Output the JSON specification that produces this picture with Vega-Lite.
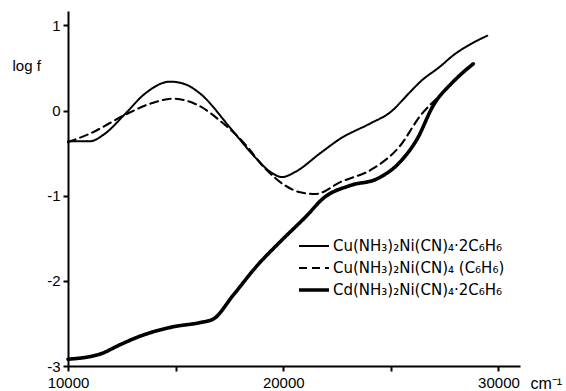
{
  "$schema": "https://vega.github.io/schema/vega-lite/v6.json",
  "width": 452,
  "height": 355,
  "autosize": {"type": "none"},
  "padding": {"left": 68, "top": 11, "right": 46, "bottom": 25},
  "background": "white",
  "config": {
    "view": {"stroke": null},
    "font": "Liberation Sans",
    "axis": {"grid": false, "domainColor": "black", "tickColor": "black", "labelColor": "black", "titleColor": "black", "labelFont": "Liberation Sans", "titleFont": "Liberation Sans", "titleFontWeight": "normal"}
  },
  "data": {
    "values": [
      {"series": "Cu(NH₃)₂Ni(CN)₄·2C₆H₆", "x": 10000, "y": -0.36},
      {"series": "Cu(NH₃)₂Ni(CN)₄·2C₆H₆", "x": 11020, "y": -0.36},
      {"series": "Cu(NH₃)₂Ni(CN)₄·2C₆H₆", "x": 11720, "y": -0.27},
      {"series": "Cu(NH₃)₂Ni(CN)₄·2C₆H₆", "x": 12650, "y": -0.04},
      {"series": "Cu(NH₃)₂Ni(CN)₄·2C₆H₆", "x": 13580, "y": 0.2},
      {"series": "Cu(NH₃)₂Ni(CN)₄·2C₆H₆", "x": 14740, "y": 0.34},
      {"series": "Cu(NH₃)₂Ni(CN)₄·2C₆H₆", "x": 15440, "y": 0.31},
      {"series": "Cu(NH₃)₂Ni(CN)₄·2C₆H₆", "x": 16140, "y": 0.2},
      {"series": "Cu(NH₃)₂Ni(CN)₄·2C₆H₆", "x": 17530, "y": -0.2},
      {"series": "Cu(NH₃)₂Ni(CN)₄·2C₆H₆", "x": 18700, "y": -0.55},
      {"series": "Cu(NH₃)₂Ni(CN)₄·2C₆H₆", "x": 19400, "y": -0.72},
      {"series": "Cu(NH₃)₂Ni(CN)₄·2C₆H₆", "x": 19950, "y": -0.78},
      {"series": "Cu(NH₃)₂Ni(CN)₄·2C₆H₆", "x": 20560, "y": -0.72},
      {"series": "Cu(NH₃)₂Ni(CN)₄·2C₆H₆", "x": 21720, "y": -0.5},
      {"series": "Cu(NH₃)₂Ni(CN)₄·2C₆H₆", "x": 22650, "y": -0.33},
      {"series": "Cu(NH₃)₂Ni(CN)₄·2C₆H₆", "x": 24050, "y": -0.15},
      {"series": "Cu(NH₃)₂Ni(CN)₄·2C₆H₆", "x": 24970, "y": -0.02},
      {"series": "Cu(NH₃)₂Ni(CN)₄·2C₆H₆", "x": 25900, "y": 0.22},
      {"series": "Cu(NH₃)₂Ni(CN)₄·2C₆H₆", "x": 26370, "y": 0.34},
      {"series": "Cu(NH₃)₂Ni(CN)₄·2C₆H₆", "x": 27300, "y": 0.52},
      {"series": "Cu(NH₃)₂Ni(CN)₄·2C₆H₆", "x": 27900, "y": 0.65},
      {"series": "Cu(NH₃)₂Ni(CN)₄·2C₆H₆", "x": 28700, "y": 0.78},
      {"series": "Cu(NH₃)₂Ni(CN)₄·2C₆H₆", "x": 29480, "y": 0.88},

      {"series": "Cu(NH₃)₂Ni(CN)₄ (C₆H₆)", "x": 10000, "y": -0.37},
      {"series": "Cu(NH₃)₂Ni(CN)₄ (C₆H₆)", "x": 11020, "y": -0.27},
      {"series": "Cu(NH₃)₂Ni(CN)₄ (C₆H₆)", "x": 12650, "y": -0.05},
      {"series": "Cu(NH₃)₂Ni(CN)₄ (C₆H₆)", "x": 13810, "y": 0.08},
      {"series": "Cu(NH₃)₂Ni(CN)₄ (C₆H₆)", "x": 14880, "y": 0.14},
      {"series": "Cu(NH₃)₂Ni(CN)₄ (C₆H₆)", "x": 16140, "y": 0.05},
      {"series": "Cu(NH₃)₂Ni(CN)₄ (C₆H₆)", "x": 17070, "y": -0.12},
      {"series": "Cu(NH₃)₂Ni(CN)₄ (C₆H₆)", "x": 18140, "y": -0.37},
      {"series": "Cu(NH₃)₂Ni(CN)₄ (C₆H₆)", "x": 19160, "y": -0.68},
      {"series": "Cu(NH₃)₂Ni(CN)₄ (C₆H₆)", "x": 20090, "y": -0.88},
      {"series": "Cu(NH₃)₂Ni(CN)₄ (C₆H₆)", "x": 20790, "y": -0.96},
      {"series": "Cu(NH₃)₂Ni(CN)₄ (C₆H₆)", "x": 21490, "y": -0.98},
      {"series": "Cu(NH₃)₂Ni(CN)₄ (C₆H₆)", "x": 22650, "y": -0.84},
      {"series": "Cu(NH₃)₂Ni(CN)₄ (C₆H₆)", "x": 24180, "y": -0.68},
      {"series": "Cu(NH₃)₂Ni(CN)₄ (C₆H₆)", "x": 25440, "y": -0.41},
      {"series": "Cu(NH₃)₂Ni(CN)₄ (C₆H₆)", "x": 26370, "y": -0.06},
      {"series": "Cu(NH₃)₂Ni(CN)₄ (C₆H₆)", "x": 27300, "y": 0.18},

      {"series": "Cd(NH₃)₂Ni(CN)₄·2C₆H₆", "x": 10000, "y": -2.92},
      {"series": "Cd(NH₃)₂Ni(CN)₄·2C₆H₆", "x": 11490, "y": -2.86},
      {"series": "Cd(NH₃)₂Ni(CN)₄·2C₆H₆", "x": 12420, "y": -2.75},
      {"series": "Cd(NH₃)₂Ni(CN)₄·2C₆H₆", "x": 13350, "y": -2.65},
      {"series": "Cd(NH₃)₂Ni(CN)₄·2C₆H₆", "x": 14880, "y": -2.54},
      {"series": "Cd(NH₃)₂Ni(CN)₄·2C₆H₆", "x": 16140, "y": -2.49},
      {"series": "Cd(NH₃)₂Ni(CN)₄·2C₆H₆", "x": 16740, "y": -2.45},
      {"series": "Cd(NH₃)₂Ni(CN)₄·2C₆H₆", "x": 17670, "y": -2.17},
      {"series": "Cd(NH₃)₂Ni(CN)₄·2C₆H₆", "x": 18790, "y": -1.82},
      {"series": "Cd(NH₃)₂Ni(CN)₄·2C₆H₆", "x": 19860, "y": -1.54},
      {"series": "Cd(NH₃)₂Ni(CN)₄·2C₆H₆", "x": 21110, "y": -1.23},
      {"series": "Cd(NH₃)₂Ni(CN)₄·2C₆H₆", "x": 21860, "y": -1.03},
      {"series": "Cd(NH₃)₂Ni(CN)₄·2C₆H₆", "x": 23110, "y": -0.88},
      {"series": "Cd(NH₃)₂Ni(CN)₄·2C₆H₆", "x": 24370, "y": -0.8},
      {"series": "Cd(NH₃)₂Ni(CN)₄·2C₆H₆", "x": 25440, "y": -0.6},
      {"series": "Cd(NH₃)₂Ni(CN)₄·2C₆H₆", "x": 26230, "y": -0.33},
      {"series": "Cd(NH₃)₂Ni(CN)₄·2C₆H₆", "x": 26970, "y": 0.06},
      {"series": "Cd(NH₃)₂Ni(CN)₄·2C₆H₆", "x": 27900, "y": 0.34},
      {"series": "Cd(NH₃)₂Ni(CN)₄·2C₆H₆", "x": 28830, "y": 0.55}
    ]
  },
  "mark": {"type": "line", "color": "black", "interpolate": "monotone", "strokeCap": "round"},
  "encoding": {
    "x": {
      "field": "x", "type": "quantitative",
      "scale": {"domain": [10000, 31000], "nice": false, "zero": false},
      "axis": {
        "values": [10000, 15000, 20000, 25000, 30000],
        "labelExpr": "datum.value % 10000 === 0 ? datum.value : ''",
        "format": "d",
        "title": "cm⁻¹",
        "titleX": 462, "titleY": 17, "titleAlign": "left", "titleBaseline": "middle",
        "titleFontSize": 16,
        "labelFontSize": 15, "labelPadding": 4,
        "domainWidth": 2, "tickWidth": 2, "tickSize": 5,
        "labelFlush": false
      }
    },
    "y": {
      "field": "y", "type": "quantitative",
      "scale": {"domain": [-3, 1.17], "nice": false, "zero": false},
      "axis": {
        "values": [-3, -2, -1, 0, 1],
        "labelExpr": "datum.value < 0 ? '-' + (-datum.value) : '' + datum.value",
        "title": "log f",
        "titleAngle": 0, "titleX": -56, "titleY": 54, "titleAlign": "left", "titleBaseline": "middle",
        "titleFontSize": 15,
        "labelFontSize": 15, "labelPadding": 3,
        "domainWidth": 2, "tickWidth": 2, "tickSize": 5
      }
    },
    "detail": {"field": "series"},
    "strokeDash": {
      "field": "series", "type": "nominal",
      "scale": {
        "domain": ["Cu(NH₃)₂Ni(CN)₄·2C₆H₆", "Cu(NH₃)₂Ni(CN)₄ (C₆H₆)", "Cd(NH₃)₂Ni(CN)₄·2C₆H₆"],
        "range": [[1, 0], [8, 5], [1, 0]]
      },
      "legend": {
        "title": null, "orient": "none", "legendX": 229, "legendY": 227,
        "symbolType": "stroke", "symbolSize": 900, "symbolStrokeColor": "black",
        "clipHeight": 16,
        "labelFontSize": 15, "labelFont": "DejaVu Sans", "labelColor": "black", "labelOffset": 2,
        "rowPadding": 6, "labelLimit": 300,
        "encode": {
          "symbols": {
            "update": {
              "strokeWidth": {"value": {"expr": "indexof(datum.value, 'Cd') === 0 ? 3.6 : 2"}}
            }
          }
        }
      }
    },
    "strokeWidth": {
      "field": "series", "type": "ordinal",
      "scale": {
        "type": "ordinal",
        "domain": ["Cu(NH₃)₂Ni(CN)₄·2C₆H₆", "Cu(NH₃)₂Ni(CN)₄ (C₆H₆)", "Cd(NH₃)₂Ni(CN)₄·2C₆H₆"],
        "range": [2, 2.1, 3.6]
      },
      "legend": null
    }
  }
}
